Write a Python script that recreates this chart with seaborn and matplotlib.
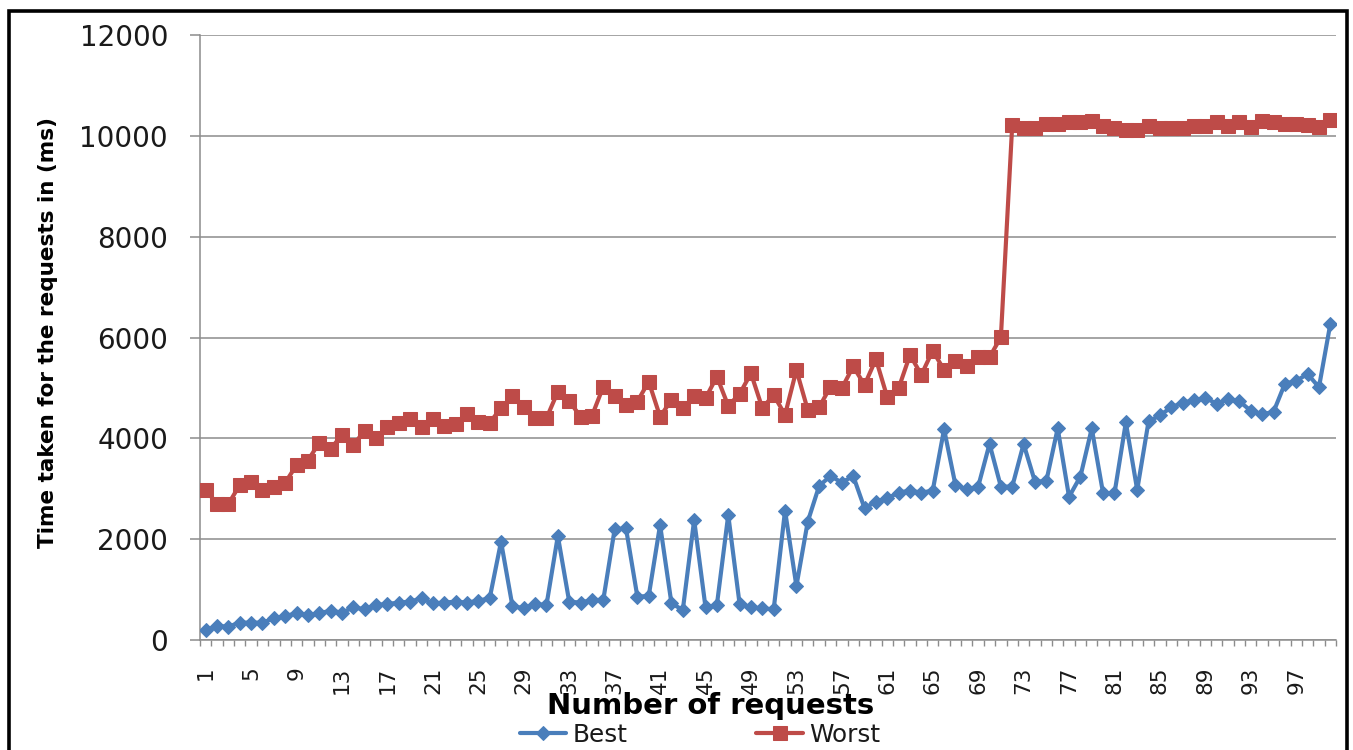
import numpy as np
import pandas as pd
import matplotlib
matplotlib.use("Agg")
import matplotlib.pyplot as plt
from matplotlib.patches import Rectangle
from matplotlib.ticker import FixedLocator, NullFormatter
import seaborn as sns

# Request index (1..100) and response times in milliseconds
requests = list(range(1, 101))

best = [190, 278, 265, 344, 344, 344, 430, 476, 529, 496,
        529, 582, 542, 648, 608, 694, 714, 741, 761, 827,
        728, 741, 761, 741, 780, 827, 1950, 675, 628, 714,
        694, 2063, 761, 741, 794, 794, 2196, 2215, 860, 873,
        2282, 728, 595, 2381, 648, 694, 2480, 714, 648, 628,
        608, 2566, 1071, 2348, 3055, 3254, 3122, 3254, 2612, 2745,
        2811, 2923, 2963, 2923, 2963, 4180, 3075, 2989, 3042, 3889,
        3042, 3042, 3889, 3141, 3151, 4197, 2840, 3242, 4197, 2907,
        2907, 4316, 2977, 4337, 4455, 4616, 4706, 4755, 4804, 4685,
        4776, 4734, 4546, 4476, 4525, 5083, 5139, 5278, 5013, 6269]

worst = [2980, 2700, 2700, 3075, 3140, 2980, 3030, 3120, 3470, 3560,
         3915, 3790, 4070, 3870, 4150, 4015, 4220, 4310, 4385, 4220,
         4385, 4245, 4290, 4485, 4330, 4310, 4600, 4830, 4630, 4400,
         4400, 4925, 4740, 4430, 4445, 5025, 4830, 4665, 4730, 5125,
         4430, 4760, 4600, 4830, 4795, 5225, 4645, 4880, 5290, 4600,
         4860, 4465, 5355, 4565, 4615, 5025, 4995, 5425, 5060, 5570,
         4815, 4995, 5655, 5260, 5740, 5355, 5525, 5435, 5610, 5610,
         6005, 10220, 10150, 10165, 10240, 10240, 10265, 10265, 10300, 10195,
         10160, 10125, 10125, 10195, 10160, 10160, 10160, 10195, 10195, 10265,
         10195, 10265, 10175, 10300, 10265, 10230, 10230, 10215, 10175, 10315]

tick_labels = [str(i) for i in range(1, 101, 4)]
y_ticks = [0, 2000, 4000, 6000, 8000, 10000, 12000]

sns.set_theme(style="white")
plt.rcParams["font.family"] = ["DejaVu Sans"]

W, H = 1353, 750
fig = plt.figure(figsize=(W / 100, H / 100), dpi=100)
ax = fig.add_axes([200 / W, 1 - 640 / H, 1136 / W, 605 / H])

df = pd.DataFrame({"request": requests, "Best": best, "Worst": worst})

blue = "#4A7EBB"
red = "#BE4B48"
grid_c = "#8C8C8C"

sns.lineplot(data=df, x="request", y="Best", ax=ax, color=blue, lw=3.0,
             marker="D", markersize=7.4, markeredgecolor=blue,
             markerfacecolor=blue, label="Best", legend=False, zorder=3)
sns.lineplot(data=df, x="request", y="Worst", ax=ax, color=red, lw=3.0,
             marker="s", markersize=9.4, markeredgecolor=red,
             markerfacecolor=red, label="Worst", legend=False, zorder=3)

ax.set_xlim(0.5, 100.5)
ax.set_ylim(0, 12000)

# Gridlines and axes styling
ax.set_yticks(y_ticks)
ax.set_yticklabels([str(v) for v in y_ticks])
ax.yaxis.grid(True, color=grid_c, lw=1.1)
ax.xaxis.grid(False)
ax.set_axisbelow(True)
for side in ["top", "right"]:
    ax.spines[side].set_visible(False)
for side in ["left", "bottom"]:
    ax.spines[side].set_color(grid_c)
    ax.spines[side].set_linewidth(1.1)

ax.tick_params(axis="y", which="major", direction="out", length=7,
               width=1.1, color=grid_c, pad=16, labelsize=20,
               labelcolor="#1a1a1a", left=True)

# Category axis: labels every 4th request, tick marks at category boundaries
ax.set_xticks(list(range(1, 101, 4)))
ax.set_xticklabels(tick_labels, rotation=90)
ax.xaxis.set_minor_locator(FixedLocator(np.arange(0.5, 101, 1)))
ax.xaxis.set_minor_formatter(NullFormatter())
ax.tick_params(axis="x", which="major", length=0, pad=19, labelsize=15.5,
               labelcolor="#1a1a1a", bottom=True)
ax.tick_params(axis="x", which="minor", direction="out", length=4.5,
               width=1.0, color=grid_c, bottom=True)

ax.set_xlabel("")
ax.set_ylabel("")

fig.text(48 / W, 1 - 332 / H, "Time taken for the requests in (ms)",
         rotation=90, ha="center", va="center", fontsize=15.5,
         fontweight="bold", color="black")
fig.text(711 / W, 1 - 706 / H, "Number of requests", ha="center",
         va="center", fontsize=21, fontweight="bold", color="black")

handles, labels = ax.get_legend_handles_labels()
fig.legend(handles, labels, loc="center", ncol=2, frameon=False,
           bbox_to_anchor=(700 / W, 1 - 735 / H), fontsize=17.8,
           handlelength=1.9, handletextpad=0.25, columnspacing=5.2,
           borderpad=0.0, labelcolor="#1a1a1a")

# Outer chart frame
fig.patches.append(Rectangle((8.5 / W, -0.05), (1346.5 - 8.5) / W,
                             (H - 10.5) / H + 0.05, transform=fig.transFigure,
                             fill=False, edgecolor="black", lw=2.6,
                             zorder=10))

fig.savefig("out.png", dpi=100)
